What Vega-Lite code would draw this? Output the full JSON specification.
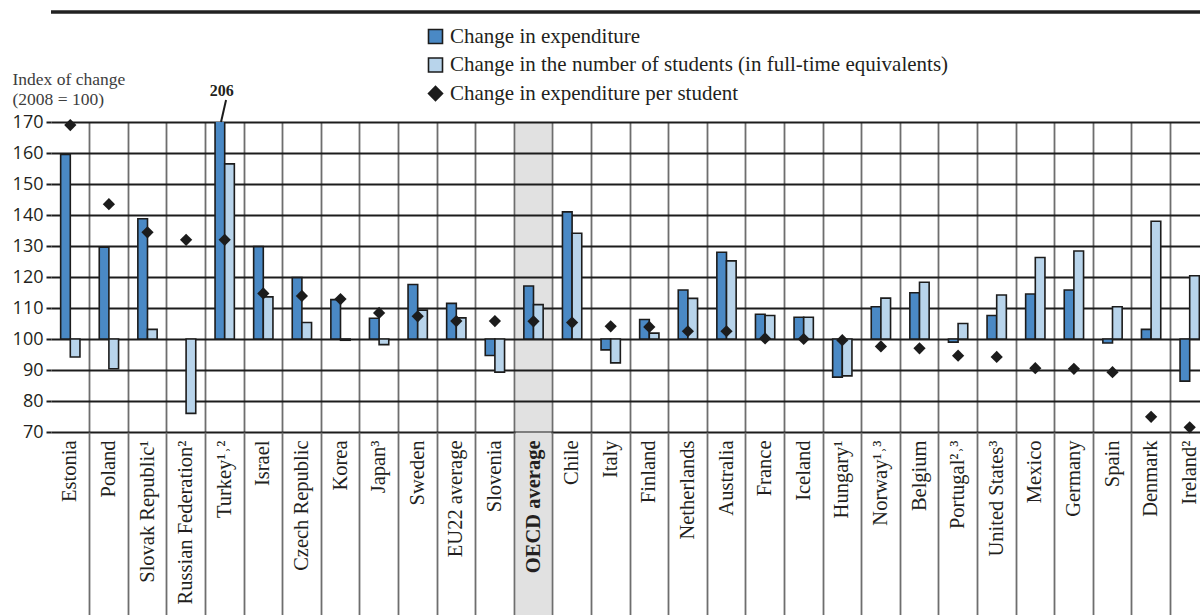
{
  "$schema": "https://vega.github.io/schema/vega-lite/v6.json",
  "width": 1149,
  "height": 310,
  "autosize": {"type": "none"},
  "padding": {"left": 51, "top": 122, "right": 0, "bottom": 183},
  "background": "white",
  "config": {"view": {"stroke": null}, "font": "Liberation Serif"},
  "data": {
    "values": [
      {"country": "Estonia", "series": "exp", "value": 159.5},
      {"country": "Estonia", "series": "stu", "value": 94.2},
      {"country": "Estonia", "series": "per", "value": 169.0},
      {"country": "Poland", "series": "exp", "value": 129.6},
      {"country": "Poland", "series": "stu", "value": 90.4},
      {"country": "Poland", "series": "per", "value": 143.5},
      {"country": "Slovak Republic¹", "series": "exp", "value": 138.8},
      {"country": "Slovak Republic¹", "series": "stu", "value": 103.1},
      {"country": "Slovak Republic¹", "series": "per", "value": 134.4},
      {"country": "Russian Federation²", "series": "stu", "value": 76.0},
      {"country": "Russian Federation²", "series": "per", "value": 132.0},
      {"country": "Turkey¹˒²", "series": "exp", "value": 206},
      {"country": "Turkey¹˒²", "series": "stu", "value": 156.5},
      {"country": "Turkey¹˒²", "series": "per", "value": 132.0},
      {"country": "Israel", "series": "exp", "value": 129.8},
      {"country": "Israel", "series": "stu", "value": 113.6},
      {"country": "Israel", "series": "per", "value": 114.7},
      {"country": "Czech Republic", "series": "exp", "value": 119.8},
      {"country": "Czech Republic", "series": "stu", "value": 105.3},
      {"country": "Czech Republic", "series": "per", "value": 113.9},
      {"country": "Korea", "series": "exp", "value": 112.7},
      {"country": "Korea", "series": "stu", "value": 99.6},
      {"country": "Korea", "series": "per", "value": 112.9},
      {"country": "Japan³", "series": "exp", "value": 106.7},
      {"country": "Japan³", "series": "stu", "value": 98.2},
      {"country": "Japan³", "series": "per", "value": 108.4},
      {"country": "Sweden", "series": "exp", "value": 117.6},
      {"country": "Sweden", "series": "stu", "value": 109.3},
      {"country": "Sweden", "series": "per", "value": 107.3},
      {"country": "EU22 average", "series": "exp", "value": 111.5},
      {"country": "EU22 average", "series": "stu", "value": 106.8},
      {"country": "EU22 average", "series": "per", "value": 105.8},
      {"country": "Slovenia", "series": "exp", "value": 94.7},
      {"country": "Slovenia", "series": "stu", "value": 89.3},
      {"country": "Slovenia", "series": "per", "value": 105.8},
      {"country": "OECD average", "series": "exp", "value": 117.1},
      {"country": "OECD average", "series": "stu", "value": 111.1},
      {"country": "OECD average", "series": "per", "value": 105.7},
      {"country": "Chile", "series": "exp", "value": 141.0},
      {"country": "Chile", "series": "stu", "value": 134.1},
      {"country": "Chile", "series": "per", "value": 105.3},
      {"country": "Italy", "series": "exp", "value": 96.5},
      {"country": "Italy", "series": "stu", "value": 92.3},
      {"country": "Italy", "series": "per", "value": 104.1},
      {"country": "Finland", "series": "exp", "value": 106.3},
      {"country": "Finland", "series": "stu", "value": 101.9},
      {"country": "Finland", "series": "per", "value": 103.9},
      {"country": "Netherlands", "series": "exp", "value": 115.8},
      {"country": "Netherlands", "series": "stu", "value": 113.1},
      {"country": "Netherlands", "series": "per", "value": 102.5},
      {"country": "Australia", "series": "exp", "value": 128.0},
      {"country": "Australia", "series": "stu", "value": 125.2},
      {"country": "Australia", "series": "per", "value": 102.5},
      {"country": "France", "series": "exp", "value": 108.0},
      {"country": "France", "series": "stu", "value": 107.6},
      {"country": "France", "series": "per", "value": 100.2},
      {"country": "Iceland", "series": "exp", "value": 107.0},
      {"country": "Iceland", "series": "stu", "value": 107.0},
      {"country": "Iceland", "series": "per", "value": 100.0},
      {"country": "Hungary¹", "series": "exp", "value": 87.7},
      {"country": "Hungary¹", "series": "stu", "value": 88.1},
      {"country": "Hungary¹", "series": "per", "value": 99.6},
      {"country": "Norway¹˒³", "series": "exp", "value": 110.4},
      {"country": "Norway¹˒³", "series": "stu", "value": 113.2},
      {"country": "Norway¹˒³", "series": "per", "value": 97.6},
      {"country": "Belgium", "series": "exp", "value": 114.9},
      {"country": "Belgium", "series": "stu", "value": 118.3},
      {"country": "Belgium", "series": "per", "value": 97.0},
      {"country": "Portugal²˒³", "series": "exp", "value": 99.0},
      {"country": "Portugal²˒³", "series": "stu", "value": 105.0},
      {"country": "Portugal²˒³", "series": "per", "value": 94.6},
      {"country": "United States³", "series": "exp", "value": 107.6},
      {"country": "United States³", "series": "stu", "value": 114.2},
      {"country": "United States³", "series": "per", "value": 94.2},
      {"country": "Mexico", "series": "exp", "value": 114.5},
      {"country": "Mexico", "series": "stu", "value": 126.3},
      {"country": "Mexico", "series": "per", "value": 90.6},
      {"country": "Germany", "series": "exp", "value": 115.8},
      {"country": "Germany", "series": "stu", "value": 128.4},
      {"country": "Germany", "series": "per", "value": 90.4},
      {"country": "Spain", "series": "exp", "value": 98.7},
      {"country": "Spain", "series": "stu", "value": 110.4},
      {"country": "Spain", "series": "per", "value": 89.3},
      {"country": "Denmark", "series": "exp", "value": 103.1},
      {"country": "Denmark", "series": "stu", "value": 138.0},
      {"country": "Denmark", "series": "per", "value": 74.9},
      {"country": "Ireland²", "series": "exp", "value": 86.4},
      {"country": "Ireland²", "series": "stu", "value": 120.4},
      {"country": "Ireland²", "series": "per", "value": 71.5}
    ]
  },
  "layer": [
    {
      "transform": [{"filter": "datum.series !== 'per'"}],
      "mark": {"type": "bar", "clip": true, "stroke": "#1c1c1c", "strokeWidth": 1.6},
      "encoding": {
        "x": {
          "field": "country", "type": "nominal",
          "scale": {
            "domain": ["Estonia", "Poland", "Slovak Republic¹", "Russian Federation²", "Turkey¹˒²", "Israel", "Czech Republic", "Korea", "Japan³", "Sweden", "EU22 average", "Slovenia", "OECD average", "Chile", "Italy", "Finland", "Netherlands", "Australia", "France", "Iceland", "Hungary¹", "Norway¹˒³", "Belgium", "Portugal²˒³", "United States³", "Mexico", "Germany", "Spain", "Denmark", "Ireland²"],
            "paddingInner": 0, "paddingOuter": 0, "range": [0, 1158]
          },
          "axis": {
            "orient": "bottom", "labels": false, "domain": false, "title": null,
            "grid": true, "tickBand": "center",
            "gridColor": {"condition": {"test": "datum.value === 'OECD average'", "value": "#e1e1e1"}, "value": "transparent"},
            "gridWidth": 36,
            "ticks": true, "tickSize": 190, "tickWidth": 36,
            "tickColor": {"condition": {"test": "datum.value === 'OECD average'", "value": "#e1e1e1"}, "value": "transparent"}
          }
        },
        "xOffset": {"field": "series", "type": "nominal", "scale": {"domain": ["exp", "stu"], "paddingInner": 0, "paddingOuter": 1.2}},
        "y": {
          "field": "value", "type": "quantitative",
          "scale": {"domain": [70, 170], "nice": false, "zero": false},
          "axis": {
            "values": [70, 80, 90, 100, 110, 120, 130, 140, 150, 160, 170], "tickCount": 20, "labelOverlap": false,
            "domain": false, "ticks": true, "tickSize": 5, "tickWidth": 2, "tickColor": "#1c1c1c",
            "grid": true, "gridColor": "#1c1c1c", "gridWidth": 2,
            "labelFont": "Open Sans", "labelFontSize": 18, "labelColor": "#231f20", "labelPadding": 3,
            "title": ["Index of change", "(2008 = 100)"],
            "titleAngle": 0, "titleAlign": "left", "titleBaseline": "alphabetic",
            "titleX": -39, "titleY": -38, "titleFont": "Liberation Serif", "titleFontSize": 17.5,
            "titleFontWeight": "normal", "titleColor": "#3d3d3d", "titleLineHeight": 20
          }
        },
        "y2": {"datum": 100},
        "color": {
          "field": "series", "type": "nominal",
          "scale": {"domain": ["exp", "stu", "per"], "range": ["#4a89c5", "#b8d4eb", "#1c1c1c"]},
          "legend": {
            "title": null, "orient": "none", "legendX": 374, "legendY": -96, "direction": "vertical",
            "labelFont": "Liberation Serif", "labelFontSize": 21, "labelColor": "#231f20", "labelLimit": 0,
            "symbolSize": 196, "symbolStrokeColor": "#1c1c1c", "symbolStrokeWidth": 1.6,
            "rowPadding": 6.5, "labelOffset": 4, "padding": 0,
            "labelExpr": "datum.label == 'exp' ? 'Change in expenditure' : datum.label == 'stu' ? 'Change in the number of students (in full-time equivalents)' : 'Change in expenditure per student'"
          }
        }
      }
    },
    {
      "transform": [{"filter": "datum.series === 'per'"}],
      "mark": {"type": "point", "filled": true, "size": 150, "opacity": 1},
      "encoding": {
        "x": {
          "field": "country", "type": "nominal",
          "axis": {
            "orient": "bottom", "title": null, "domain": false,
            "grid": true, "bandPosition": 1, "tickExtra": false,
            "gridColor": "#6e6e6e", "gridWidth": 1.8,
            "ticks": true, "tickSize": 190, "tickWidth": 1.8, "tickColor": "#6e6e6e",
            "labelAngle": 270, "labelPadding": -182, "labelAlign": "right", "labelBaseline": "middle",
            "labelFont": "Liberation Serif", "labelFontSize": 20.5, "labelColor": "#231f20", "labelLimit": 0,
            "labelFontWeight": {"condition": {"test": "datum.value === 'OECD average'", "value": "bold"}, "value": "normal"}
          }
        },
        "y": {
          "field": "value", "type": "quantitative",
          "axis": {
            "values": [70, 80, 90, 100, 110, 120, 130, 140, 150, 160, 170], "tickCount": 20, "labelOverlap": false,
            "domain": false, "ticks": true, "tickSize": 5, "tickWidth": 2, "tickColor": "#1c1c1c",
            "grid": true, "gridColor": "#1c1c1c", "gridWidth": 2,
            "labelFont": "Open Sans", "labelFontSize": 18, "labelColor": "#231f20", "labelPadding": 3,
            "title": ["Index of change", "(2008 = 100)"],
            "titleAngle": 0, "titleAlign": "left", "titleBaseline": "alphabetic",
            "titleX": -39, "titleY": -38, "titleFont": "Liberation Serif", "titleFontSize": 17.5,
            "titleFontWeight": "normal", "titleColor": "#3d3d3d", "titleLineHeight": 20
          }
        },
        "color": {
          "field": "series", "type": "nominal",
          "legend": {
            "title": null, "orient": "none", "legendX": 374, "legendY": -96, "direction": "vertical",
            "labelFont": "Liberation Serif", "labelFontSize": 21, "labelColor": "#231f20", "labelLimit": 0,
            "symbolSize": 196, "symbolStrokeColor": "#1c1c1c", "symbolStrokeWidth": 1.6,
            "rowPadding": 6.5, "labelOffset": 4, "padding": 0,
            "labelExpr": "datum.label == 'exp' ? 'Change in expenditure' : datum.label == 'stu' ? 'Change in the number of students (in full-time equivalents)' : 'Change in expenditure per student'"
          }
        },
        "shape": {
          "field": "series", "type": "nominal",
          "scale": {"domain": ["exp", "stu", "per"], "range": ["square", "square", "diamond"]},
          "legend": {
            "title": null, "orient": "none", "legendX": 374, "legendY": -96, "direction": "vertical",
            "labelFont": "Liberation Serif", "labelFontSize": 21, "labelColor": "#231f20", "labelLimit": 0,
            "symbolSize": 196, "symbolStrokeColor": "#1c1c1c", "symbolStrokeWidth": 1.6,
            "rowPadding": 6.5, "labelOffset": 4, "padding": 0,
            "labelExpr": "datum.label == 'exp' ? 'Change in expenditure' : datum.label == 'stu' ? 'Change in the number of students (in full-time equivalents)' : 'Change in expenditure per student'"
          }
        }
      }
    },
    {
      "transform": [{"filter": "datum.series === 'exp' && datum.value > 170"}],
      "mark": {"type": "text", "font": "Liberation Serif", "fontSize": 16, "fontWeight": "bold", "color": "#231f20", "baseline": "alphabetic", "dy": -26, "dx": -3},
      "encoding": {
        "x": {"field": "country", "type": "nominal", "axis": null},
        "y": {"datum": 170},
        "text": {"field": "value", "type": "quantitative"}
      }
    },
    {
      "transform": [{"filter": "datum.series === 'exp' && datum.value > 170"}],
      "mark": {"type": "rule", "strokeWidth": 2, "color": "#1c1c1c", "clip": false},
      "encoding": {
        "x": {"field": "country", "type": "nominal", "bandPosition": 0.405, "axis": null},
        "x2": {"field": "country", "bandPosition": 0.535},
        "y": {"datum": 170},
        "y2": {"datum": 177.1}
      }
    },
    {
      "data": {"values": [{}]},
      "mark": {"type": "rule", "strokeWidth": 3.5, "color": "#222222", "clip": false},
      "encoding": {"y": {"datum": 205.5}}
    }
  ],
  "resolve": {"axis": {"x": "independent"}}
}
